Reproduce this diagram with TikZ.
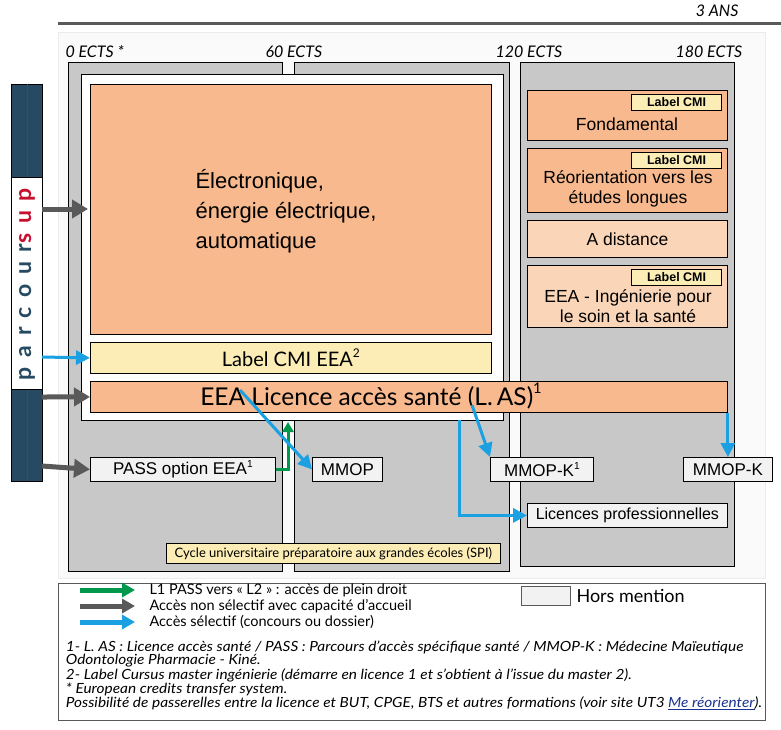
\documentclass[tikz,border=0pt]{standalone}
\usepackage{fontspec}
\setmainfont{Liberation Sans}
\newfontfamily\lato{Lato}
\usetikzlibrary{arrows.meta}
\definecolor{colgray}{HTML}{C8C8C8}
\definecolor{peach}{HTML}{F7B98D}
\definecolor{lightpeach}{HTML}{FAD5B8}
\definecolor{paleyellow}{HTML}{FBEDB5}
\definecolor{offwhite}{HTML}{F2F2F2}
\definecolor{navy}{HTML}{264A62}
\definecolor{psred}{HTML}{C8102E}
\definecolor{accblue}{HTML}{1BA1E2}
\definecolor{accgreen}{HTML}{00994C}
\definecolor{arrgray}{HTML}{595959}
\newcommand{\sups}[1]{\raisebox{0.45em}{\scalebox{0.6}{#1}}}
\tikzset{
  box/.style={draw, line width=0.8pt, inner sep=0pt},
  hm/.style={box, fill=offwhite, font=\fontsize{17}{19}\selectfont, inner xsep=4pt, minimum height=24pt},
  tag/.style={box, fill=paleyellow, font=\bfseries\fontsize{12.5}{13}\selectfont, minimum width=90pt, minimum height=16pt},
  ects/.style={font=\lato\itshape\fontsize{16}{17}\selectfont, anchor=west},
  rtext/.style={font=\fontsize{17.5}{20}\selectfont, align=center},
  grayarr/.style={arrgray, line width=5pt, -{Triangle[length=16pt,width=18pt]}},
  bluearr/.style={accblue, line width=3pt, -{Triangle[length=14pt,width=14pt]}},
  greenarr/.style={accgreen, line width=3pt, -{Triangle[length=10pt,width=11pt]}},
  legarr/.style={line width=5pt, -{Triangle[length=13pt,width=14pt]}},
}
\begin{document}
\begin{tikzpicture}[x=1pt,y=-1pt]
\useasboundingbox[fill=white] (0,0) rectangle (781,729);
% time axis
\draw[arrgray, line width=3pt] (58,23) -- (781,23);
\node[ects, anchor=east] (ans) at (742,11) {3 ANS};
\draw[black!8, fill=black!2] (58,32) rectangle (765,578);
\node[ects] (e0) at (62,52) {0 ECTS *};
\node[ects] (e60) at (262,52) {60 ECTS};
\node[ects] (e120) at (492,52) {120 ECTS};
\node[ects] (e180) at (672,52) {180 ECTS};
% columns
\draw[box, fill=colgray] (68,62) rectangle (282,571);
\draw[box, fill=colgray] (294,62) rectangle (509,571);
\draw[box, fill=colgray] (520,62) rectangle (734,566);
\draw[box, fill=white] (81,74) rectangle (503,420);
% licence
\node[box, fill=peach, minimum width=401pt, minimum height=250pt, anchor=north west] (eea) at (90,84) {};
\node[font=\fontsize{22}{30}\selectfont, align=left, anchor=west] (eeatxt) at (192,211) {Électronique,\\énergie électrique,\\automatique};
\node[box, fill=paleyellow, minimum width=401pt, minimum height=31pt, anchor=north west, font=\lato\fontsize{20}{22}\selectfont] (cmi) at (90,342) {Label CMI EEA\sups{2}};
\node[box, fill=peach, minimum width=637pt, minimum height=31pt, anchor=north west] (las) at (90,381) {};
\node[font=\lato\fontsize{24.5}{26}\selectfont] (lastxt) at (371,396) {EEA Licence accès santé (L.\,AS)\sups{1}};
% master column
\node[box, fill=peach, minimum width=200pt, minimum height=50pt, anchor=north west] (fond) at (527,90) {};
\node[rtext] (fondtxt) at (627,124) {Fondamental};
\node[box, fill=peach, minimum width=200pt, minimum height=64pt, anchor=north west] (reor) at (527,148) {};
\node[rtext] (reortxt) at (628,189) {Réorientation vers les\\études longues};
\node[box, fill=lightpeach, minimum width=200pt, minimum height=37pt, anchor=north west, rtext] (dist) at (527,220) {A distance};
\node[box, fill=lightpeach, minimum width=200pt, minimum height=62pt, anchor=north west] (sante) at (527,265) {};
\node[rtext] (santetxt) at (628,306) {EEA - Ingénierie pour\\le soin et la santé};
\node[tag, anchor=north east] (t1) at (722,94) {Label CMI};
\node[tag, anchor=north east] (t2) at (722,152) {Label CMI};
\node[tag, anchor=north east] (t3) at (722,269) {Label CMI};
% hors mention
\node[hm, minimum width=185pt, anchor=north west] (pass) at (90,457) {PASS option EEA\sups{1}};
\node[hm, minimum width=70pt, anchor=north west] (mmop) at (312,457) {MMOP};
\node[hm, minimum width=103pt, anchor=north west] (mmopk1) at (490,457) {MMOP-K\sups{1}};
\node[hm, minimum width=89pt, anchor=north west] (mmopk) at (683,457) {MMOP-K};
\node[hm, minimum width=200pt, anchor=north west, font=\fontsize{16}{18}\selectfont] (lpro) at (527,503) {Licences professionnelles};
\node[box, fill=paleyellow, minimum width=334pt, minimum height=20pt, anchor=north west, font=\lato\fontsize{13}{14}\selectfont] (spi) at (166,543) {Cycle universitaire préparatoire aux grandes écoles (SPI)};
% parcoursup
\draw[fill=navy] (11,84) rectangle (42,481);
\draw[psred, line width=0.6pt] (27,84) -- (27,481);
\draw[fill=white] (11,177) rectangle (42,389);
\node[rotate=90, font=\lato\bfseries\fontsize{23}{24}\selectfont] (psup) at (27,284) {\addfontfeature{LetterSpace=42}\color{navy}parcour\color{psred}sup};
\coordinate (p1) at (42,209);
\coordinate (p2) at (42,357);
\coordinate (p3) at (42,397);
\coordinate (p4) at (42,466);
\draw[grayarr] (p1) -- (88,209);
\draw[bluearr] (p2) -- (cmi.west);
\draw[grayarr] (p3) -- (las.west);
\draw[grayarr] (p4) -- (pass.west);
% flows
\draw[greenarr] (pass.east) -| (288,422);
\draw[bluearr] (240,390) -- (mmop.west);
\draw[bluearr] (472,405) -- (mmopk1.north west);
\draw[bluearr] (459,420) |- (lpro.west);
\draw[bluearr] (mmopk.north |- las.south) -- (mmopk.north);
% legend
\draw[arrgray, line width=0.8pt] (58,583) rectangle (765,720);
\coordinate (l1) at (80,590);
\coordinate (l2) at (80,606);
\coordinate (l3) at (80,622);
\draw[legarr, accgreen] (l1) -- (135,590);
\draw[legarr, arrgray] (l2) -- (135,606);
\draw[legarr, accblue] (l3) -- (135,622);
\begin{scope}[every node/.style={anchor=west, font=\lato\fontsize{14.5}{15}\selectfont}]
\node (leg1) at (146,590) {L1 PASS vers « L2 » : accès de plein droit};
\node (leg2) at (146,606) {Accès non sélectif avec capacité d’accueil};
\node (leg3) at (146,622) {Accès sélectif (concours ou dossier)};
\node (leg4) at (573,596) {\fontsize{18}{20}\selectfont Hors mention};
\end{scope}
\draw[arrgray, fill=offwhite] (521,586) rectangle (570,605);
\begin{scope}[every node/.style={anchor=west, font=\lato\itshape\fontsize{14}{15}\selectfont, xscale=1.1}]
\node (n1) at (62,647) {1- L. AS : Licence accès santé / PASS : Parcours d’accès spécifique santé / MMOP-K : Médecine Maïeutique};
\node (n2) at (62,661) {Odontologie Pharmacie - Kiné.};
\node (n3) at (62,675) {2- Label Cursus master ingénierie (démarre en licence 1 et s’obtient à l’issue du master 2).};
\node (n4) at (62,689) {* European credits transfer system.};
\node (n5) at (62,703) {Possibilité de passerelles entre la licence et BUT, CPGE, BTS et autres formations (voir site UT3 \textcolor{navy!70!blue}{\underline{Me réorienter}}).};
\end{scope}
\end{tikzpicture}
\end{document}
